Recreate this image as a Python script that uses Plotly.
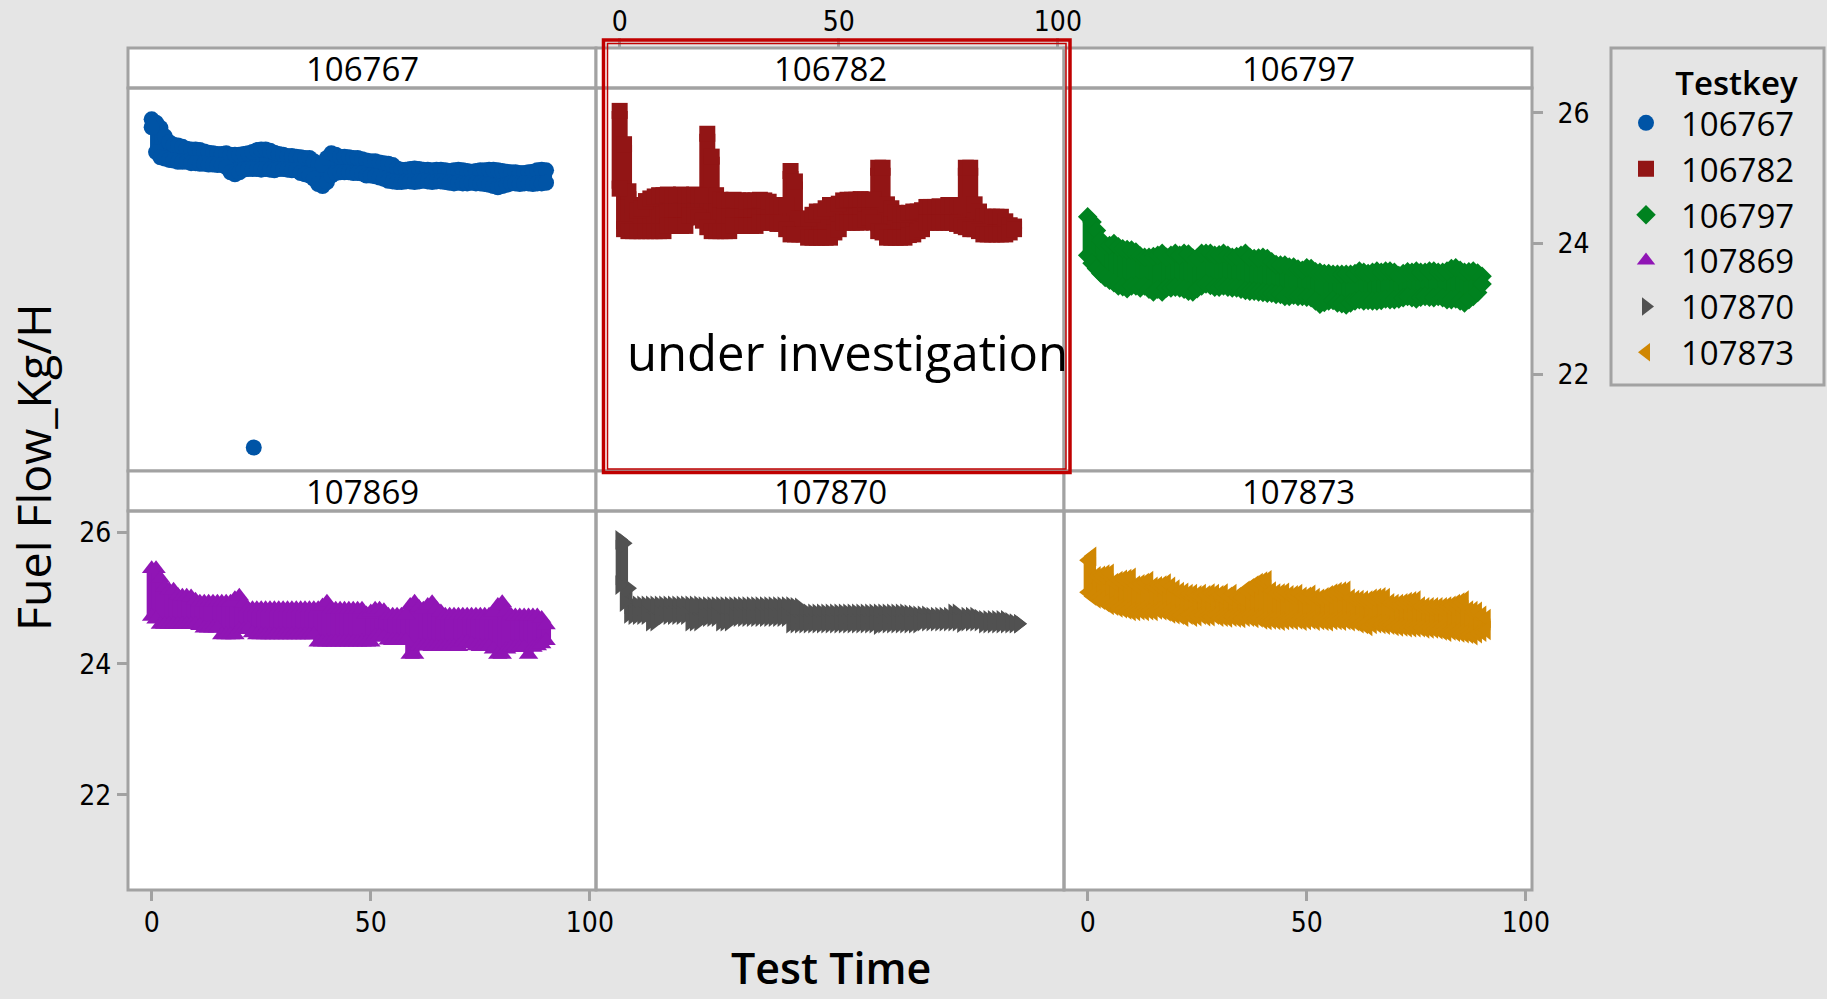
import plotly.graph_objects as go

W, H = 1827, 999

# ---------------------------------------------------------------- data
testkeys = ["106767", "106782", "106797", "107869", "107870", "107873"]

minutes = [0, 1, 2, 3, 4, 5, 6, 7, 8, 9,
           10, 11, 12, 13, 14, 15, 16, 17, 18, 19,
           20, 21, 22, 23, 24, 25, 26, 27, 28, 29,
           30, 31, 32, 33, 34, 35, 36, 37, 38, 39,
           40, 41, 42, 43, 44, 45, 46, 47, 48, 49,
           50, 51, 52, 53, 54, 55, 56, 57, 58, 59,
           60, 61, 62, 63, 64, 65, 66, 67, 68, 69,
           70, 71, 72, 73, 74, 75, 76, 77, 78, 79,
           80, 81, 82, 83, 84, 85, 86, 87, 88, 89,
           90, 91]

# per-minute highest / lowest fuel flow reading (Kg/H)
ff_max_106767 = [25.90, 25.85, 25.77, 25.64, 25.55, 25.51, 25.50, 25.48, 25.45, 25.44,
                 25.44, 25.43, 25.41, 25.39, 25.38, 25.37, 25.37, 25.38, 25.36, 25.36,
                 25.36, 25.37, 25.38, 25.40, 25.43, 25.44, 25.44, 25.42, 25.39, 25.37,
                 25.36, 25.34, 25.34, 25.33, 25.32, 25.31, 25.31, 25.26, 25.20, 25.20,
                 25.31, 25.38, 25.36, 25.33, 25.33, 25.32, 25.31, 25.31, 25.29, 25.27,
                 25.26, 25.26, 25.24, 25.23, 25.22, 25.20, 25.15, 25.13, 25.13, 25.14,
                 25.15, 25.14, 25.13, 25.13, 25.12, 25.13, 25.13, 25.12, 25.11, 25.12,
                 25.13, 25.12, 25.11, 25.10, 25.11, 25.12, 25.12, 25.13, 25.13, 25.12,
                 25.11, 25.10, 25.09, 25.09, 25.08, 25.08, 25.09, 25.10, 25.12, 25.13,
                 25.12]
ff_min_106767 = [25.78, 25.40, 25.32, 25.30, 25.28, 25.27, 25.25, 25.25, 25.25, 25.23,
                 25.23, 25.22, 25.22, 25.21, 25.21, 25.20, 25.20, 25.17, 25.09, 25.06,
                 25.09, 25.13, 25.14, 25.14, 25.14, 25.13, 25.14, 25.13, 25.12, 25.14,
                 25.14, 25.13, 25.12, 25.12, 25.08, 25.06, 25.04, 24.99, 24.91, 24.88,
                 24.94, 25.04, 25.08, 25.09, 25.09, 25.09, 25.08, 25.08, 25.07, 25.04,
                 25.04, 25.03, 25.01, 24.99, 24.96, 24.95, 24.94, 24.94, 24.95, 24.95,
                 24.94, 24.95, 24.96, 24.95, 24.94, 24.95, 24.95, 24.94, 24.93, 24.92,
                 24.93, 24.92, 24.92, 24.93, 24.92, 24.92, 24.91, 24.90, 24.88, 24.86,
                 24.88, 24.90, 24.92, 24.92, 24.91, 24.92, 24.92, 24.91, 24.92, 24.92,
                 24.93]
# single low reading of test 106767
stray_time_106767 = [23.3]
stray_flow_106767 = [20.88]

ff_max_106782 = [26.03, 25.52, 24.80, 24.59, 24.51, 24.53, 24.65, 24.69, 24.72, 24.74,
                 24.74, 24.75, 24.74, 24.74, 24.75, 24.74, 24.74, 24.75, 24.74, 24.74,
                 25.68, 25.33, 24.74, 24.67, 24.66, 24.66, 24.67, 24.66, 24.66, 24.65,
                 24.66, 24.66, 24.67, 24.66, 24.64, 24.59, 24.59, 24.59, 24.59, 25.11,
                 24.95, 24.38, 24.38, 24.38, 24.44, 24.49, 24.49, 24.54, 24.59, 24.59,
                 24.61, 24.66, 24.67, 24.67, 24.67, 24.68, 24.67, 24.67, 24.67, 25.16,
                 25.16, 24.60, 24.54, 24.47, 24.44, 24.44, 24.47, 24.49, 24.49, 24.51,
                 24.56, 24.56, 24.56, 24.57, 24.56, 24.59, 24.59, 24.59, 24.59, 25.16,
                 25.16, 24.60, 24.49, 24.41, 24.41, 24.41, 24.41, 24.41, 24.34, 24.28,
                 24.26]
ff_min_106782 = [24.84, 24.22, 24.19, 24.19, 24.19, 24.19, 24.19, 24.19, 24.19, 24.19,
                 24.19, 24.27, 24.27, 24.27, 24.27, 24.27, 24.43, 24.43, 24.40, 24.35,
                 24.25, 24.19, 24.19, 24.19, 24.19, 24.19, 24.27, 24.27, 24.27, 24.27,
                 24.27, 24.27, 24.32, 24.32, 24.32, 24.32, 24.30, 24.30, 24.22, 24.14,
                 24.14, 24.14, 24.14, 24.09, 24.09, 24.09, 24.09, 24.09, 24.09, 24.17,
                 24.22, 24.32, 24.32, 24.32, 24.32, 24.32, 24.37, 24.40, 24.32, 24.19,
                 24.17, 24.09, 24.09, 24.09, 24.09, 24.09, 24.13, 24.14, 24.19, 24.22,
                 24.32, 24.32, 24.32, 24.32, 24.32, 24.32, 24.32, 24.30, 24.27, 24.25,
                 24.22, 24.22, 24.19, 24.14, 24.14, 24.14, 24.14, 24.14, 24.14, 24.17,
                 24.22]

ff_max_106797 = [24.41, 24.33, 24.20, 24.05, 23.97, 23.97, 24.00, 23.95, 23.92, 23.91,
                 23.90, 23.87, 23.81, 23.79, 23.79, 23.80, 23.82, 23.85, 23.79, 23.82,
                 23.85, 23.82, 23.85, 23.84, 23.78, 23.78, 23.85, 23.85, 23.85, 23.82,
                 23.83, 23.85, 23.82, 23.79, 23.80, 23.82, 23.85, 23.79, 23.77, 23.78,
                 23.79, 23.77, 23.72, 23.68, 23.67, 23.67, 23.64, 23.64, 23.61, 23.59,
                 23.63, 23.62, 23.57, 23.56, 23.54, 23.54, 23.53, 23.53, 23.53, 23.53,
                 23.53, 23.54, 23.58, 23.56, 23.54, 23.56, 23.58, 23.56, 23.58, 23.58,
                 23.56, 23.51, 23.54, 23.57, 23.56, 23.58, 23.56, 23.56, 23.58, 23.58,
                 23.56, 23.56, 23.58, 23.62, 23.63, 23.59, 23.56, 23.57, 23.58, 23.55,
                 23.50]
ff_min_106797 = [23.82, 23.70, 23.62, 23.54, 23.48, 23.44, 23.40, 23.35, 23.34, 23.31,
                 23.35, 23.35, 23.32, 23.35, 23.30, 23.26, 23.30, 23.26, 23.32, 23.32,
                 23.33, 23.32, 23.30, 23.27, 23.26, 23.31, 23.35, 23.38, 23.36, 23.33,
                 23.33, 23.35, 23.33, 23.32, 23.32, 23.30, 23.28, 23.27, 23.27, 23.26,
                 23.25, 23.24, 23.24, 23.22, 23.22, 23.19, 23.19, 23.21, 23.19, 23.19,
                 23.18, 23.17, 23.12, 23.07, 23.10, 23.12, 23.13, 23.09, 23.08, 23.06,
                 23.09, 23.12, 23.14, 23.12, 23.13, 23.12, 23.12, 23.13, 23.15, 23.14,
                 23.14, 23.15, 23.17, 23.19, 23.17, 23.15, 23.18, 23.19, 23.18, 23.17,
                 23.19, 23.17, 23.14, 23.14, 23.15, 23.12, 23.09, 23.14, 23.19, 23.25,
                 23.38]

ff_max_107869 = [25.45, 25.45, 25.30, 25.17, 25.12, 25.12, 25.04, 25.03, 25.03, 25.02,
                 24.97, 24.94, 24.94, 24.94, 24.94, 24.94, 24.94, 24.94, 24.94, 24.99,
                 25.03, 24.92, 24.84, 24.84, 24.84, 24.84, 24.84, 24.84, 24.84, 24.84,
                 24.84, 24.84, 24.84, 24.84, 24.84, 24.84, 24.84, 24.84, 24.84, 24.88,
                 24.94, 24.84, 24.83, 24.83, 24.83, 24.83, 24.83, 24.83, 24.83, 24.76,
                 24.79, 24.83, 24.83, 24.81, 24.74, 24.74, 24.74, 24.74, 24.74, 24.89,
                 24.94, 24.86, 24.83, 24.89, 24.93, 24.84, 24.79, 24.74, 24.74, 24.74,
                 24.74, 24.74, 24.74, 24.74, 24.74, 24.74, 24.74, 24.74, 24.79, 24.89,
                 24.93, 24.81, 24.74, 24.73, 24.73, 24.73, 24.73, 24.73, 24.73, 24.69,
                 24.59]
ff_min_107869 = [24.72, 24.68, 24.60, 24.60, 24.60, 24.60, 24.60, 24.60, 24.60, 24.60,
                 24.60, 24.58, 24.54, 24.54, 24.54, 24.54, 24.44, 24.44, 24.44, 24.44,
                 24.52, 24.52, 24.53, 24.47, 24.44, 24.44, 24.44, 24.44, 24.44, 24.44,
                 24.44, 24.44, 24.44, 24.44, 24.44, 24.44, 24.44, 24.44, 24.33, 24.33,
                 24.33, 24.33, 24.33, 24.33, 24.33, 24.33, 24.33, 24.33, 24.33, 24.33,
                 24.33, 24.42, 24.42, 24.40, 24.36, 24.35, 24.35, 24.35, 24.35, 24.14,
                 24.14, 24.27, 24.27, 24.27, 24.26, 24.26, 24.26, 24.26, 24.26, 24.26,
                 24.26, 24.33, 24.33, 24.30, 24.27, 24.26, 24.26, 24.26, 24.22, 24.14,
                 24.14, 24.22, 24.25, 24.25, 24.25, 24.25, 24.14, 24.25, 24.27, 24.30,
                 24.35]

ff_max_107870 = [25.89, 25.84, 25.15, 24.89, 24.89, 24.89, 24.89, 24.89, 24.89, 24.89,
                 24.89, 24.89, 24.89, 24.89, 24.89, 24.89, 24.89, 24.89, 24.89, 24.88,
                 24.88, 24.88, 24.88, 24.88, 24.88, 24.88, 24.88, 24.88, 24.88, 24.88,
                 24.88, 24.88, 24.88, 24.88, 24.88, 24.88, 24.88, 24.88, 24.88, 24.88,
                 24.87, 24.86, 24.79, 24.77, 24.77, 24.77, 24.77, 24.77, 24.77, 24.77,
                 24.77, 24.77, 24.77, 24.77, 24.77, 24.77, 24.77, 24.77, 24.77, 24.77,
                 24.77, 24.77, 24.77, 24.77, 24.77, 24.77, 24.76, 24.75, 24.74, 24.74,
                 24.74, 24.72, 24.72, 24.72, 24.72, 24.72, 24.77, 24.77, 24.70, 24.72,
                 24.72, 24.72, 24.69, 24.67, 24.67, 24.67, 24.67, 24.67, 24.67, 24.64,
                 24.62, 24.61]
ff_min_107870 = [25.20, 24.94, 24.76, 24.74, 24.74, 24.74, 24.74, 24.64, 24.64, 24.74,
                 24.74, 24.74, 24.74, 24.74, 24.74, 24.74, 24.64, 24.64, 24.64, 24.71,
                 24.71, 24.71, 24.71, 24.64, 24.64, 24.64, 24.71, 24.71, 24.71, 24.71,
                 24.71, 24.71, 24.71, 24.71, 24.71, 24.71, 24.71, 24.71, 24.71, 24.61,
                 24.61, 24.61, 24.61, 24.61, 24.61, 24.61, 24.61, 24.61, 24.61, 24.61,
                 24.61, 24.61, 24.61, 24.61, 24.61, 24.61, 24.61, 24.61, 24.61, 24.59,
                 24.61, 24.61, 24.61, 24.61, 24.61, 24.61, 24.61, 24.61, 24.61, 24.64,
                 24.64, 24.64, 24.64, 24.64, 24.64, 24.64, 24.64, 24.64, 24.62, 24.64,
                 24.64, 24.64, 24.64, 24.61, 24.61, 24.61, 24.61, 24.61, 24.61, 24.61,
                 24.61, 24.61]

ff_max_107873 = [25.58, 25.64, 25.34, 25.35, 25.37, 25.38, 25.24, 25.27, 25.29, 25.30,
                 25.32, 25.20, 25.22, 25.24, 25.27, 25.18, 25.19, 25.20, 25.23, 25.18,
                 25.14, 25.10, 25.09, 25.07, 25.07, 25.05, 25.07, 25.05, 25.08, 25.07,
                 25.05, 25.08, 25.03, 25.07, 25.02, 25.01, 25.12, 25.16, 25.20, 25.24,
                 25.26, 25.28, 25.11, 25.08, 25.08, 25.09, 25.05, 25.05, 25.07, 25.03,
                 25.03, 25.06, 25.01, 25.00, 25.02, 25.05, 25.08, 25.10, 25.11, 25.12,
                 25.00, 24.98, 24.98, 24.97, 24.97, 25.00, 25.01, 25.02, 25.01, 24.93,
                 24.92, 24.92, 24.93, 24.95, 24.96, 24.97, 24.88, 24.87, 24.87, 24.87,
                 24.87, 24.87, 24.88, 24.89, 24.92, 24.94, 24.97, 24.82, 24.81, 24.80,
                 24.74, 24.69]
ff_min_107873 = [25.09, 25.03, 24.99, 24.97, 24.93, 24.89, 24.88, 24.85, 24.84, 24.82,
                 24.80, 24.80, 24.81, 24.80, 24.81, 24.80, 24.82, 24.81, 24.79, 24.76,
                 24.75, 24.74, 24.71, 24.74, 24.71, 24.72, 24.74, 24.72, 24.72, 24.74,
                 24.71, 24.71, 24.70, 24.71, 24.70, 24.69, 24.71, 24.71, 24.69, 24.70,
                 24.67, 24.66, 24.67, 24.66, 24.65, 24.66, 24.67, 24.66, 24.67, 24.65,
                 24.66, 24.67, 24.65, 24.66, 24.65, 24.64, 24.66, 24.66, 24.65, 24.66,
                 24.64, 24.64, 24.61, 24.60, 24.57, 24.60, 24.61, 24.60, 24.59, 24.59,
                 24.57, 24.56, 24.56, 24.55, 24.55, 24.55, 24.55, 24.53, 24.53, 24.53,
                 24.52, 24.50, 24.48, 24.50, 24.48, 24.47, 24.46, 24.45, 24.43, 24.46,
                 24.48, 24.51]

flow_max = {"106767": ff_max_106767, "106782": ff_max_106782, "106797": ff_max_106797,
            "107869": ff_max_107869, "107870": ff_max_107870, "107873": ff_max_107873}
flow_min = {"106767": ff_min_106767, "106782": ff_min_106782, "106797": ff_min_106797,
            "107869": ff_min_107869, "107870": ff_min_107870, "107873": ff_min_107873}

x_ticks = [0, 50, 100]
y_ticks = [22, 24, 26]

# ---------------------------------------------------------------- styling
colors = {"106767": "#0054A6", "106782": "#921515", "106797": "#00821F",
          "107869": "#9015B5", "107870": "#515151", "107873": "#D08702"}
symbols = {"106767": "circle", "106782": "square", "106797": "diamond",
           "107869": "triangle-up", "107870": "triangle-right", "107873": "triangle-left"}
marker_px = {"106767": 16, "106782": 16, "106797": 15,
             "107869": 17, "107870": 17, "107873": 17}
band_px = {"106767": 12, "106782": 16, "106797": 10,
           "107869": 10, "107870": 8, "107873": 8}

FONT = "Open Sans"
TICK_FONT = "Liberation Sans Narrow, DejaVu Sans Condensed, Open Sans"
FRAME = "#a2a2a2"

# panel grid in pixels (left/right edges of the columns, rows as top/strip/bottom)
col_edges = [128, 596, 1064, 1532]
rows_px = [(48, 88, 471), (471, 511, 890)]
y_ranges = [[20.52, 26.38], [20.55, 26.33]]
x_range = [-5.4, 101.4]


def fx(p):
    return p / W


def fy(p):
    return 1 - p / H


fig = go.Figure()

for i, key in enumerate(testkeys):
    n = i + 1
    xa = "x" if n == 1 else f"x{n}"
    ya = "y" if n == 1 else f"y{n}"
    hi = flow_max[key]
    lo = flow_min[key]
    t = minutes[:len(hi)]

    # spread of the readings within each minute
    seg_x, seg_y = [], []
    for tt, a, b in zip(t, lo, hi):
        seg_x += [tt, tt, None]
        seg_y += [a, b, None]
    fig.add_trace(go.Scatter(
        x=seg_x, y=seg_y, mode="lines", xaxis=xa, yaxis=ya, legendgroup=key,
        line=dict(color=colors[key], width=band_px[key]),
        showlegend=False, hoverinfo="skip"))

    pt_t = t + t
    pt_f = hi + lo
    if key == "106767":
        pt_t = pt_t + stray_time_106767
        pt_f = pt_f + stray_flow_106767
    fig.add_trace(go.Scatter(
        x=pt_t, y=pt_f, mode="markers", xaxis=xa, yaxis=ya, name=key, legendgroup=key,
        marker=dict(symbol=symbols[key], size=marker_px[key], color=colors[key],
                    line=dict(width=0))))

# ---------------------------------------------------------------- axes
tick_font = dict(family=TICK_FONT, size=28, color="black")
layout_axes = {}
for i in range(6):
    n = i + 1
    r, c = divmod(i, 3)
    top, strip, bottom = rows_px[r]
    xname = "xaxis" if n == 1 else f"xaxis{n}"
    yname = "yaxis" if n == 1 else f"yaxis{n}"
    xa = dict(domain=[fx(col_edges[c]), fx(col_edges[c + 1])], range=x_range,
              showgrid=False, zeroline=False, showline=False,
              ticks="", showticklabels=False, tickvals=x_ticks,
              anchor="y" if n == 1 else f"y{n}")
    ya = dict(domain=[fy(bottom), fy(strip)], range=y_ranges[r],
              showgrid=False, zeroline=False, showline=False,
              ticks="", showticklabels=False, tickvals=y_ticks,
              anchor="x" if n == 1 else f"x{n}")
    if n == 2:
        xa.update(ticks="outside", showticklabels=True, side="top",
                  anchor="free", position=fy(top), ticklen=10, tickwidth=3,
                  tickcolor=FRAME, tickfont=tick_font, ticklabelstandoff=-4)
    if n in (4, 6):
        xa.update(ticks="outside", showticklabels=True, side="bottom",
                  ticklen=10, tickwidth=3, tickcolor=FRAME, tickfont=tick_font,
                  ticklabelstandoff=-3)
    if n == 3:
        ya.update(ticks="outside", showticklabels=True, side="right",
                  ticklen=10, tickwidth=3, tickcolor=FRAME, tickfont=tick_font,
                  ticklabelstandoff=9)
    if n == 4:
        ya.update(ticks="outside", showticklabels=True, side="left",
                  ticklen=10, tickwidth=3, tickcolor=FRAME, tickfont=tick_font,
                  ticklabelstandoff=0)
    layout_axes[xname] = xa
    layout_axes[yname] = ya

# ---------------------------------------------------------------- frames, strips
shapes = []
annotations = []
for r, (top, strip, bottom) in enumerate(rows_px):
    for c in range(3):
        left, right = col_edges[c], col_edges[c + 1]
        shapes.append(dict(type="rect", xref="paper", yref="paper", layer="above",
                           x0=fx(left), x1=fx(right), y0=fy(strip), y1=fy(top),
                           fillcolor="white", line=dict(color=FRAME, width=3)))
        shapes.append(dict(type="rect", xref="paper", yref="paper", layer="above",
                           x0=fx(left), x1=fx(right), y0=fy(bottom), y1=fy(strip),
                           line=dict(color=FRAME, width=3)))
        annotations.append(dict(text=testkeys[r * 3 + c], xref="paper", yref="paper",
                                x=fx((left + right) / 2), y=fy((top + strip) / 2),
                                showarrow=False, xanchor="center", yanchor="middle",
                                font=dict(family=FONT, size=33, color="black")))

# legend frame
shapes.append(dict(type="rect", xref="paper", yref="paper", layer="above",
                   x0=fx(1611), x1=fx(1824), y0=fy(385), y1=fy(48),
                   line=dict(color=FRAME, width=3)))

# highlight around panel 106782
shapes.append(dict(type="rect", xref="paper", yref="paper", layer="above",
                   x0=fx(603.5), x1=fx(1070), y0=fy(472.5), y1=fy(40),
                   line=dict(color="#c00000", width=3.5)))
shapes.append(dict(type="rect", xref="paper", yref="paper", layer="above",
                   x0=fx(607.5), x1=fx(1066), y0=fy(469), y1=fy(43.5),
                   line=dict(color="#c00000", width=1.5)))

annotations.append(dict(text="under investigation", xref="paper", yref="paper",
                        x=fx(847), y=fy(352), showarrow=False,
                        xanchor="center", yanchor="middle",
                        font=dict(family=FONT, size=49, color="black")))

annotations.append(dict(text="Test Time", xref="paper", yref="paper",
                        x=fx(831), y=0, showarrow=False,
                        xanchor="center", yanchor="bottom",
                        font=dict(family=FONT, size=43, color="black", weight=600)))
annotations.append(dict(text="Fuel Flow_Kg/H", xref="paper", yref="paper",
                        x=fx(33), y=fy(467), showarrow=False, textangle=-90,
                        xanchor="center", yanchor="middle",
                        font=dict(family=FONT, size=46.5, color="black")))

fig.update_layout(
    width=W, height=H,
    margin=dict(l=0, r=0, t=0, b=0, autoexpand=False),
    paper_bgcolor="#e5e5e5",
    plot_bgcolor="white",
    font=dict(family=FONT, color="black"),
    showlegend=True,
    legend=dict(x=fx(1611), y=fy(52), xanchor="left", yanchor="top",
                bgcolor="rgba(0,0,0,0)", borderwidth=0, itemwidth=60,
                tracegroupgap=0,
                font=dict(family=FONT, size=33, color="black"),
                title=dict(text="Testkey", side="top right",
                           font=dict(family=FONT, size=33, color="black", weight=600)),
                itemsizing="trace"),
    shapes=shapes,
    annotations=annotations,
    **layout_axes,
)

fig.write_html("out.html")
